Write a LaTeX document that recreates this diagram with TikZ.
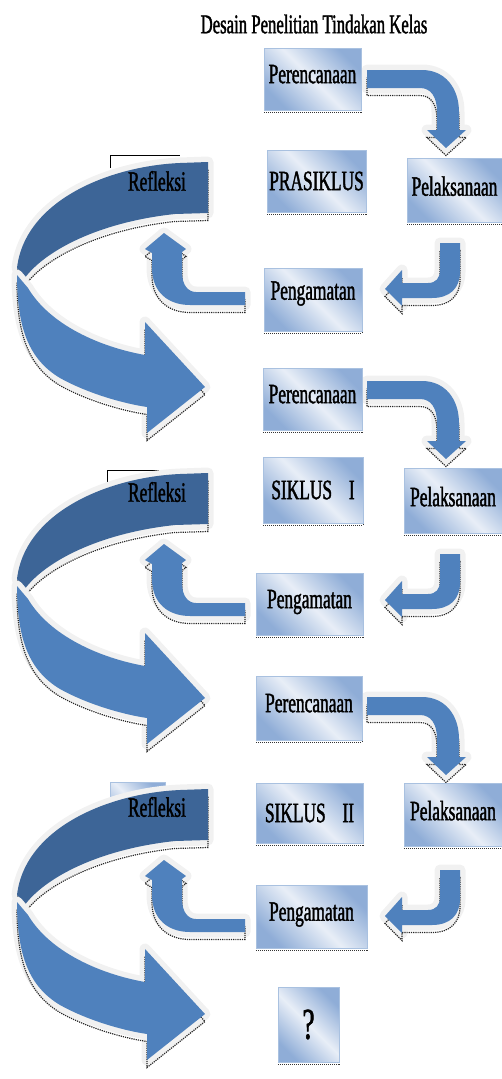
\documentclass[tikz,border=0pt]{standalone}
\usepackage{fontspec}
\setmainfont{Liberation Serif}[FakeStretch=0.62, FakeBold=1.4]
\usetikzlibrary{positioning}

\definecolor{birupanah}{HTML}{4F81BD}
\definecolor{birutua}{HTML}{3D6597}
\definecolor{kotakgelap}{HTML}{8FADD7}
\definecolor{kotakterang}{HTML}{E8EEF7}
\definecolor{garis}{HTML}{A9C1E0}
\definecolor{pendar}{HTML}{F1F1F1}

\begin{document}
\begin{tikzpicture}[x=1pt, y=-1pt,
    kotak/.style={draw=garis, line width=0.8pt, left color=kotakgelap, right color=kotakgelap,
      middle color=kotakterang, shading angle=135, inner sep=0pt,
      font=\fontsize{28}{30}\selectfont,
      preaction={draw=black!80, densely dotted, line width=1pt, transform canvas={yshift=-2pt}}},
    panah/.style={fill=birupanah, line join=round,
      preaction={draw=pendar, line width=11pt, line join=round},
      preaction={draw=black!85, densely dotted, line width=1.2pt, transform canvas={yshift=-7.5pt}}},
    pitatua/.style={panah, fill=birutua},
    teks/.style={font=\fontsize{28}{30}\selectfont, inner sep=0pt}]
    \useasboundingbox (0,0) rectangle (502,1079);

    \node[teks, font=\fontsize{27}{29}\selectfont] (judul) at (314,24) {Desain Penelitian Tindakan Kelas};

    % sisa kotak refleksi di belakang pita
    \draw[line width=1pt] (110,168) |- (180,155);
    \draw[line width=1pt] (107,482) |- (162,470);
    \path[kotak] (110,782) rectangle (165,830);

    % panah tiap siklus
    \foreach \dy in {0,311,627}{
    \begin{scope}[shift={(0,\dy)}]
        \path[panah] (367,70) -- (422,70) .. controls (445,70) and (459,88) .. (459,112)
            -- (459,130) -- (466,130) -- (446,148) -- (427,130) -- (437,130) -- (437,112)
            .. controls (437,97) and (431,88) .. (420,88) -- (367,88) -- cycle;
        \path[panah] (440,243) -- (460,243) -- (460,272) .. controls (460,288) and (450,298) .. (432,298)
            -- (402,298) -- (402,306) -- (385,289) -- (402,270) -- (402,283) -- (428,283)
            .. controls (436,283) and (440,278) .. (440,270) -- cycle;
        \path[panah] (245,292) -- (196,292) .. controls (188,292) and (182,285) .. (182,272)
            -- (182,252) -- (186,249) -- (164,233) -- (145,249) -- (152,253) -- (152,268)
            .. controls (152,292) and (168,305) .. (190,305) -- (245,305) -- cycle;
        \path[pitatua] (208,162) -- (180,163) .. controls (110,166) and (25,200) .. (17,268)
            -- (24,279) .. controls (45,250) and (100,222) .. (175,214) -- (208,213) -- cycle;
        \path[panah] (17,275) .. controls (17,330) and (30,360) .. (60,378)
            .. controls (85,392) and (120,403) .. (147,407) -- (147,433) -- (205,387)
            -- (145,322) -- (145,355) .. controls (100,347) and (50,325) .. (28,288) -- cycle;
    \end{scope}
    }

    \node[teks] (ref1) at (157,181) {Refleksi};
    \node[teks] (ref2) at (157,492) {Refleksi};
    \node[teks] (ref3) at (157,807) {Refleksi};

    % prasiklus
    \node[kotak, minimum width=97pt, minimum height=62pt, text depth=10pt] (per1) at (312.5,79) {Perencanaan};
    \node[kotak, minimum width=99pt, minimum height=62pt] (pra) at (316.5,181) {PRASIKLUS};
    \node[kotak, minimum width=95pt, minimum height=64pt, text depth=8pt] (pel1) at (454.5,190) {Pelaksanaan};
    \node[kotak, minimum width=98pt, minimum height=63pt, text depth=18pt] (pen1) at (313,299.5) {Pengamatan};

    % siklus I
    \node[kotak, minimum width=99pt, minimum height=62pt, text depth=10pt] (per2) at (312.5,399) {Perencanaan};
    \node[kotak, minimum width=100pt, minimum height=66pt] (sik1) at (313,490) {SIKLUS\hspace{0.6em}I\hspace{0.8em}};
    \node[kotak, minimum width=98pt, minimum height=65pt, text depth=8pt] (pel2) at (453,500.5) {Pelaksanaan};
    \node[kotak, minimum width=107pt, minimum height=62pt, text depth=10pt] (pen2) at (309.5,604) {Pengamatan};

    % siklus II
    \node[kotak, minimum width=106pt, minimum height=64pt, text depth=10pt] (per3) at (309,708) {Perencanaan};
    \node[kotak, minimum width=107pt, minimum height=60pt] (sik2) at (309.5,813) {SIKLUS\hspace{0.6em}II\hspace{0.4em}};
    \node[kotak, minimum width=98pt, minimum height=63pt, text depth=8pt] (pel3) at (453,814.5) {Pelaksanaan};
    \node[kotak, minimum width=111pt, minimum height=63pt, text depth=10pt] (pen3) at (311.5,916.5) {Pengamatan};

    \node[kotak, minimum width=61pt, minimum height=75pt, font=\fontsize{44}{46}\selectfont] (tanya) at (308.5,1024.5) {?};
\end{tikzpicture}
\end{document}
